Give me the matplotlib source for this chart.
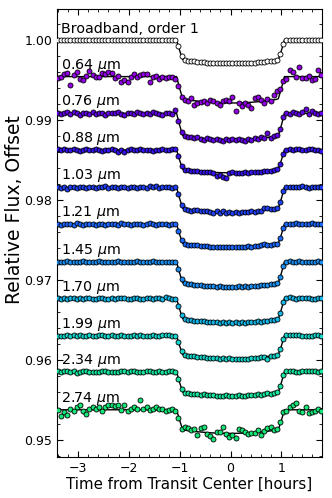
import numpy as np
import matplotlib.pyplot as plt
from matplotlib.ticker import MultipleLocator

# time grid of the exposures (hours from transit center)
t_start = -3.40
t_step = 0.0625
n_pts = 84
time = t_start + t_step * np.arange(n_pts)

labels = ["Broadband, order 1", r"0.64 $\mu$m", r"0.76 $\mu$m", r"0.88 $\mu$m",
          r"1.03 $\mu$m", r"1.21 $\mu$m", r"1.45 $\mu$m", r"1.70 $\mu$m",
          r"1.99 $\mu$m", r"2.34 $\mu$m", r"2.74 $\mu$m"]
offsets = [1.0000, 0.99545, 0.99085, 0.98628, 0.98160, 0.97700,
           0.97228, 0.96772, 0.96307, 0.95856, 0.95382]
depths = [290, 330, 330, 285, 310, 285, 310, 300, 283, 300, 295]  # 1e-5
colors = ["white", "#9400e8", "#6200e6", "#3414ee", "#1f40f6", "#1a68ff",
          "#1a8ef2", "#14b6e6", "#14d6cc", "#14e6a0", "#14e678"]

# model line knots (fraction of central depth)
model_t = [-3.45, -1.06, -1.0, -0.94, -0.9, -0.75, -0.6, -0.45, -0.3, -0.15, 0.0,
           0.15, 0.3, 0.45, 0.6, 0.75, 0.9, 0.94, 1.0, 1.06, 1.85]
model_frac = [0, 0, 0.45, 0.84, 0.865, 0.904, 0.94, 0.966, 0.985, 0.996, 1.0,
              0.996, 0.985, 0.966, 0.94, 0.904, 0.865, 0.84, 0.45, 0, 0]

# flux of each exposure relative to its offset, units of 1e-5
flux = [
    # broadband
    [1, -1, 0, 2, -1, 0, 1, -2, 0, 1, 0, -1, 2, 0, -1, 1, 0, -2, 1, 0, 1, -1, 0, 2, -1, 0, 1, 0, -1, 1, 0, -2, 1, 0, 1, -1, 0, 1,
     -75, -200,
     -251, -257, -260, -266, -271, -273, -276, -280, -283, -284, -285, -288, -290, -289, -291,
     -290, -289, -288, -288, -287, -284, -281, -279, -277, -272, -269, -266, -259, -255, -249,
     -172, -46,
     1, 0, -1, 2, 0, 1, -1, 0, 1, 0, -1, 1],
    # 0.64
    [-20, -8, 33, 49, -103, 20, 62, -33, -41, 8, 74, 20, 0, -8, 49, 33, 62, 41, -20, 8, -62, -41, -62, 0, 33, 0, 20, 33, 33, -62, -8, 8, -33, 0, -20, -8, 0, -33,
     -120, -250,
     -290, -300, -271, -361, -328, -320, -308, -336, -287, -308, -328, -349, -308, -287, -308,
     -254, -431, -336, -369, -336, -361, -390, -267, -254, -287, -328, -279, -300, -230, -180,
     -150, -50,
     -33, 82, 62, -8, 120, -20, -12, 8, -41, -33, 82, 20],
    # 0.76
    [10, -5, 0, 12, -8, 20, 5, -15, 10, 0, -10, 15, -12, 5, 8, -20, 10, 0, 5, 18, -8, -15, 5, 10, -5, 20, 0, -12, 8, -10, 15, 5, -8, -15, 0, 10, -5, 45,
     -90, -230,
     -280, -300, -290, -310, -300, -318, -330, -312, -325, -335, -320, -330, -345, -325, -338,
     -320, -335, -322, -330, -340, -315, -328, -310, -322, -300, -312, -240, -305, -285, -270,
     -190, -45,
     5, -10, 15, 8, -5, 20, 60, -8, 25, 0, -12, 10],
    # 0.88
    [8, -5, 10, 0, -3, 12, 5, -8, 0, 10, -5, 3, 8, -2, -10, 5, 0, 12, -3, -20, 5, -22, 0, 8, -5, 3, 10, -2, 5, 0, -8, 5, 3, 10, -5, 0, 8, 15,
     -80, -200,
     -245, -255, -258, -262, -268, -270, -270, -278, -275, -283, -330, -310, -340, -355, -285,
     -280, -288, -282, -286, -278, -282, -275, -278, -270, -272, -262, -265, -258, -250, -242,
     -170, -45,
     5, 10, 0, 8, 12, 3, -5, 10, 15, 5, 0, -8],
    # 1.03
    [5, -8, 0, -15, 3, 8, -5, 10, 0, -3, 5, 8, -10, 3, 0, 12, -5, 8, 3, -8, 0, 10, -12, 5, 3, -5, 10, 0, -8, 15, 5, 20, -3, 8, 10, 5, -5, 3,
     -85, -215,
     -270, -278, -290, -282, -288, -300, -292, -298, -305, -315, -298, -325, -300, -315, -308,
     -320, -310, -318, -305, -308, -312, -300, -305, -298, -290, -260, -255, -265, -270, -262,
     -185, -50,
     8, 3, 10, 5, 0, 12, 8, -3, 5, 10, 0, 5],
    # 1.21
    [3, -5, 8, 0, 5, -3, 10, 2, -5, 0, 5, 8, -3, 0, 6, -5, 3, 8, 0, -5, 10, 3, 0, -3, 5, 8, 0, -5, 3, 10, 5, -3, 0, 8, 5, -5, 0, 5,
     -80, -200,
     -245, -255, -255, -262, -265, -268, -272, -275, -282, -280, -285, -280, -288, -282, -285,
     -290, -282, -286, -280, -283, -275, -278, -270, -272, -262, -250, -258, -262, -245, -250,
     -170, -45,
     5, 8, 3, 10, 5, 8, 3, 5, 10, 8, 3, 5],
    # 1.45
    [5, 0, -3, 8, 3, -5, 5, 0, 10, 3, -3, 0, 5, 8, -5, 0, 3, 5, -3, 8, 0, 3, 5, -5, 0, 8, 3, -3, 5, 0, 8, 3, -5, 0, 5, 3, -3, 0,
     -85, -215,
     -268, -275, -280, -282, -290, -292, -295, -300, -305, -302, -308, -305, -312, -310, -315,
     -308, -312, -305, -310, -300, -306, -302, -300, -295, -292, -285, -285, -270, -275, -262,
     -185, -50,
     5, 8, 0, 5, 10, 3, 0, 5, -3, 5, 8, 3],
    # 1.70
    [3, -5, 5, 0, 8, 3, -3, 5, 0, 10, 5, -5, 0, 8, 3, 0, -3, 5, 0, 3, 10, 5, 0, -3, 5, 3, -5, 0, 8, 5, 0, 3, 5, 0, 15, 10, 0, -5,
     -90, -210,
     -258, -268, -265, -280, -275, -285, -282, -290, -288, -295, -292, -300, -298, -305, -295,
     -300, -298, -305, -295, -300, -293, -298, -290, -285, -288, -278, -280, -268, -265, -258,
     -180, -40,
     5, 15, 10, 0, 8, 5, 12, 3, 0, -3, 5, 8],
    # 1.99
    [0, 3, -3, 5, 0, 8, 3, 5, -3, 0, 5, 3, 0, 8, 5, 0, -3, 5, 3, 0, 5, -3, 0, 3, 5, 0, 8, 3, -3, 0, 5, 3, 0, 8, 12, 5, -5, 0,
     -80, -195,
     -245, -252, -258, -255, -265, -270, -268, -275, -280, -278, -272, -285, -283, -288, -282,
     -285, -292, -288, -290, -295, -285, -282, -280, -275, -270, -265, -285, -255, -250, -245,
     -170, -45,
     8, 5, 10, 8, 5, 0, 3, -3, 0, 5, 8, 3],
    # 2.34
    [5, -3, 8, 10, 0, 5, -10, 3, 8, 5, 0, 3, -3, 0, 5, 8, 3, -5, 0, 3, 5, 8, 3, 10, 5, 0, 3, -3, 5, 8, 3, 0, 5, -3, 0, 5, 12, -5,
     -90, -210,
     -262, -268, -272, -275, -280, -285, -282, -290, -295, -292, -300, -298, -302, -295, -305,
     -298, -300, -295, -302, -298, -290, -292, -288, -280, -290, -275, -268, -275, -262, -258,
     -180, -40,
     5, 10, 8, 3, 0, 10, 15, 5, 8, 12, 3, 5],
    # 2.74
    [0, -74, -25, -60, 16, -12, 29, 57, -12, -53, 8, 29, 16, 29, -12, 41, 57, 57, 49, 57, 0, 57, -12, 16, 29, 8, 123, 8, 29, 0, 16, 37, 8, 16, -12, 0, 16, -12,
     -100, -240,
     -215, -225, -254, -240, -315, -225, -220, -300, -325, -360, -280, -280, -220, -298, -336,
     -312, -351, -240, -253, -280, -298, -288, -285, -248, -318, -260, -230, -210, -250, -240,
     -150, -30,
     -12, 29, 62, 90, -12, -33, 29, -45, -33, -12, 5, -20],
]

fig = plt.figure(figsize=(3.32, 4.98), dpi=100)
ax = fig.add_axes([0.172, 0.082, 0.798, 0.900])

for i in range(len(labels)):
    base = offsets[i]
    ax.plot(model_t, base - depths[i] * 1e-5 * np.array(model_frac),
            color="black", lw=1.0, zorder=2)
    ax.plot(time, base + np.array(flux[i]) * 1e-5, "o", ms=3.6,
            mfc=colors[i], mec="black", mew=0.6, zorder=3)
    ax.text(-3.33, base + 0.00143, labels[i], fontsize=10.3,
            ha="left", va="center", zorder=4)

ax.set_xlim(-3.41, 1.80)
ax.set_ylim(0.9479, 1.0039)
ax.xaxis.set_major_locator(MultipleLocator(1))
ax.xaxis.set_minor_locator(MultipleLocator(0.2))
ax.yaxis.set_major_locator(MultipleLocator(0.01))
ax.yaxis.set_minor_locator(MultipleLocator(0.002))
ax.yaxis.set_major_formatter(plt.FormatStrFormatter("%.2f"))
ax.tick_params(which="both", direction="in", top=True, right=True, labelsize=9)
ax.tick_params(which="major", length=4)
ax.tick_params(which="minor", length=2)

ax.set_xlabel("Time from Transit Center [hours]", fontsize=10.8, labelpad=1)
ax.set_ylabel("Relative Flux, Offset", fontsize=13.5)
ax.yaxis.set_label_coords(-0.125, 0.553)

fig.savefig("out.png", dpi=100)
